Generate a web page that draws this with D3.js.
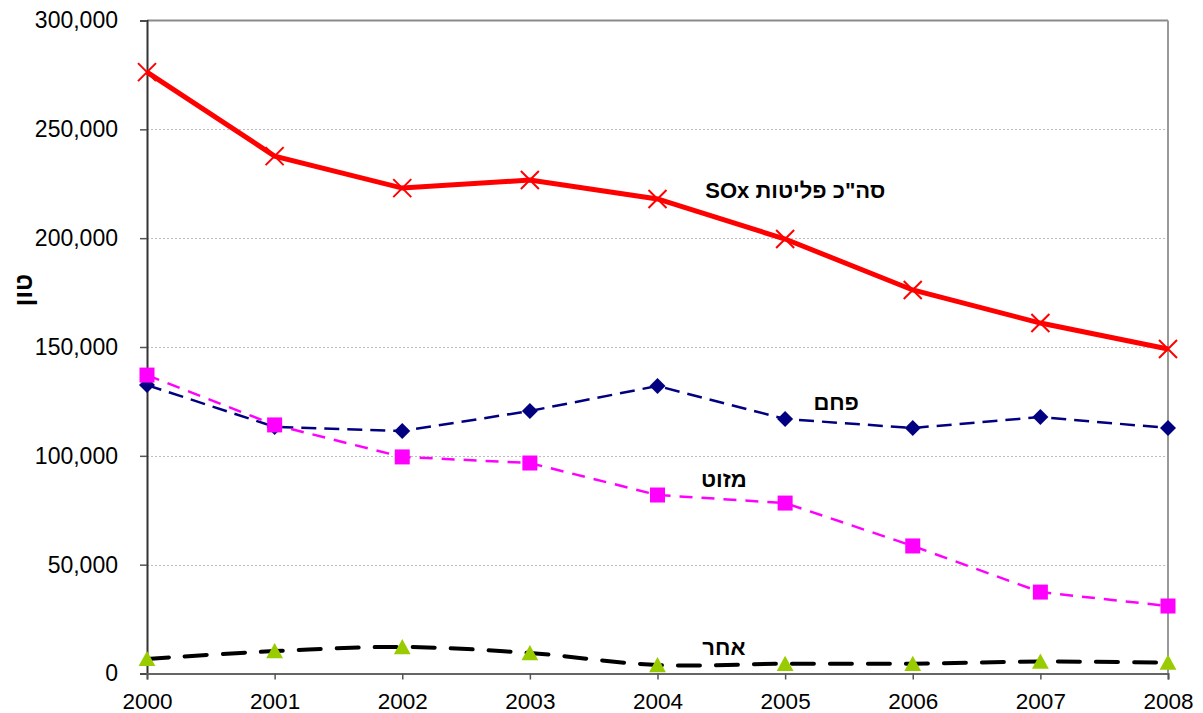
<!DOCTYPE html>
<html>
<head>
<meta charset="utf-8">
<script src="https://cdn.jsdelivr.net/npm/d3@7"></script>
<style>
  body { margin: 0; background: #fff; }
  svg { display: block; font-family: Arial, "Liberation Sans", sans-serif; }
</style>
</head>
<body>
<div id="chart"></div>
<script>
// data
const years = [2000, 2001, 2002, 2003, 2004, 2005, 2006, 2007, 2008];
const totalSOx = [276300, 237700, 223000, 226700, 218000, 199600, 176200, 161000, 149100];
const coal     = [132500, 113300, 111400, 120600, 132100, 116900, 112800, 117800, 112800];
const mazut    = [137100, 114200, 99500, 96700, 82000, 78300, 58600, 37400, 31000];
const other    = [6700, 10300, 12200, 9400, 3900, 4500, 4500, 5500, 5000];
const yTicks = [0, 50000, 100000, 150000, 200000, 250000, 300000];

const W = 1203, H = 713;
const m = { left: 147, right: 1168, top: 20.5, bottom: 673.5 };

const svg = d3.select("#chart").append("svg")
    .attr("width", W).attr("height", H);

const x = d3.scaleLinear().domain([2000, 2008]).range([m.left, m.right]);
const y = d3.scaleLinear().domain([0, 300000]).range([m.bottom, m.top]);

// gridlines
svg.append("g").selectAll("line")
    .data(yTicks.filter(d => d > 0 && d < 300000))
    .join("line")
    .attr("x1", m.left).attr("x2", m.right)
    .attr("y1", d => Math.round(y(d)) + 0.5).attr("y2", d => Math.round(y(d)) + 0.5)
    .attr("stroke", "#bdbdbd").attr("stroke-dasharray", "2,2");

// frame (top, right)
svg.append("line").attr("x1", m.left).attr("x2", m.right)
    .attr("y1", m.top).attr("y2", m.top).attr("stroke", "#8a8a8a").attr("stroke-width", 2);
svg.append("line").attr("x1", m.right).attr("x2", m.right)
    .attr("y1", m.top).attr("y2", m.bottom).attr("stroke", "#999").attr("stroke-width", 2);

// axes
const yAxis = svg.append("g")
    .attr("transform", `translate(${m.left},0)`)
    .call(d3.axisLeft(y).tickValues(yTicks).tickFormat(d3.format(",")).tickSize(7).tickPadding(22));
yAxis.select(".domain").attr("stroke", "#333").attr("stroke-width", 2);
yAxis.selectAll(".tick line").attr("stroke", "#555").attr("stroke-width", 1.5);
yAxis.selectAll("text").attr("font-size", 23).attr("fill", "#000")
    .attr("font-family", "Arial, 'Liberation Sans', sans-serif");

const xAxis = svg.append("g")
    .attr("transform", `translate(0,${m.bottom})`)
    .call(d3.axisBottom(x).tickValues(years).tickFormat(d3.format("d")).tickSizeOuter(0).tickSize(6).tickPadding(14));
xAxis.select(".domain").attr("stroke", "#666").attr("stroke-width", 2);
xAxis.selectAll(".tick line").attr("stroke", "#555").attr("stroke-width", 1.5);
xAxis.selectAll("text").attr("font-size", 22.5).attr("fill", "#000")
    .attr("font-family", "Arial, 'Liberation Sans', sans-serif");

// series
function drawSeries(vals, opt) {
    const pts = years.map((yr, i) => [x(yr), y(vals[i])]);
    const line = d3.line().curve(opt.curve || d3.curveLinear);
    svg.append("path")
        .attr("d", line(pts))
        .attr("fill", "none")
        .attr("stroke", opt.stroke)
        .attr("stroke-width", opt.width)
        .attr("stroke-dasharray", opt.dash || null)
        .attr("stroke-linecap", opt.cap || "butt");
    const g = svg.append("g");
    pts.forEach(p => {
        const s = opt.size;
        if (opt.marker === "x") {
            g.append("path")
                .attr("d", `M${p[0]-s},${p[1]-s}L${p[0]+s},${p[1]+s}M${p[0]-s},${p[1]+s}L${p[0]+s},${p[1]-s}`)
                .attr("stroke", opt.mcolor).attr("stroke-width", 2);
        } else if (opt.marker === "diamond") {
            g.append("path")
                .attr("d", `M${p[0]},${p[1]-s}L${p[0]+s},${p[1]}L${p[0]},${p[1]+s}L${p[0]-s},${p[1]}Z`)
                .attr("fill", opt.mcolor);
        } else if (opt.marker === "square") {
            g.append("rect")
                .attr("x", p[0]-s).attr("y", p[1]-s).attr("width", 2*s).attr("height", 2*s)
                .attr("fill", opt.mcolor);
        } else if (opt.marker === "triangle") {
            g.append("path")
                .attr("d", `M${p[0]},${p[1]-s}L${p[0]+s*1.05},${p[1]+s*0.9}L${p[0]-s*1.05},${p[1]+s*0.9}Z`)
                .attr("fill", opt.mcolor);
        }
    });
}

drawSeries(totalSOx, { stroke: "#ff0000", width: 5, marker: "x", mcolor: "#ff0000", size: 9 });
drawSeries(coal, { stroke: "#000080", width: 2.5, dash: "15,8", marker: "diamond", mcolor: "#000080", size: 8 });
drawSeries(mazut, { stroke: "#ff00ff", width: 2.5, dash: "13,9", marker: "square", mcolor: "#ff00ff", size: 7.5 });
drawSeries(other, { stroke: "#000", width: 4, dash: "22,16", cap: "round", curve: d3.curveCatmullRom, marker: "triangle", mcolor: "#99cc00", size: 8 });

// series labels
const labels = [
    { text: "סה\"כ פליטות SOx", yr: 2005.08, val: 218500 },
    { text: "פחם", yr: 2005.4, val: 121000 },
    { text: "מזוט", yr: 2004.52, val: 85800 },
    { text: "אחר", yr: 2004.52, val: 8400 }
];
svg.append("g").selectAll("text")
    .data(labels)
    .join("text")
    .attr("x", d => x(d.yr))
    .attr("y", d => y(d.val))
    .attr("text-anchor", "middle")
    .attr("direction", "rtl")
    .attr("font-size", 22)
    .attr("font-weight", "bold")
    .attr("fill", "#000")
    .text(d => d.text);

// y axis title
svg.append("text")
    .attr("transform", "translate(23,290) rotate(-90)")
    .attr("text-anchor", "middle")
    .attr("dominant-baseline", "central")
    .attr("direction", "rtl")
    .attr("font-size", 25)
    .attr("font-weight", "bold")
    .text("טון");
</script>
</body>
</html>
